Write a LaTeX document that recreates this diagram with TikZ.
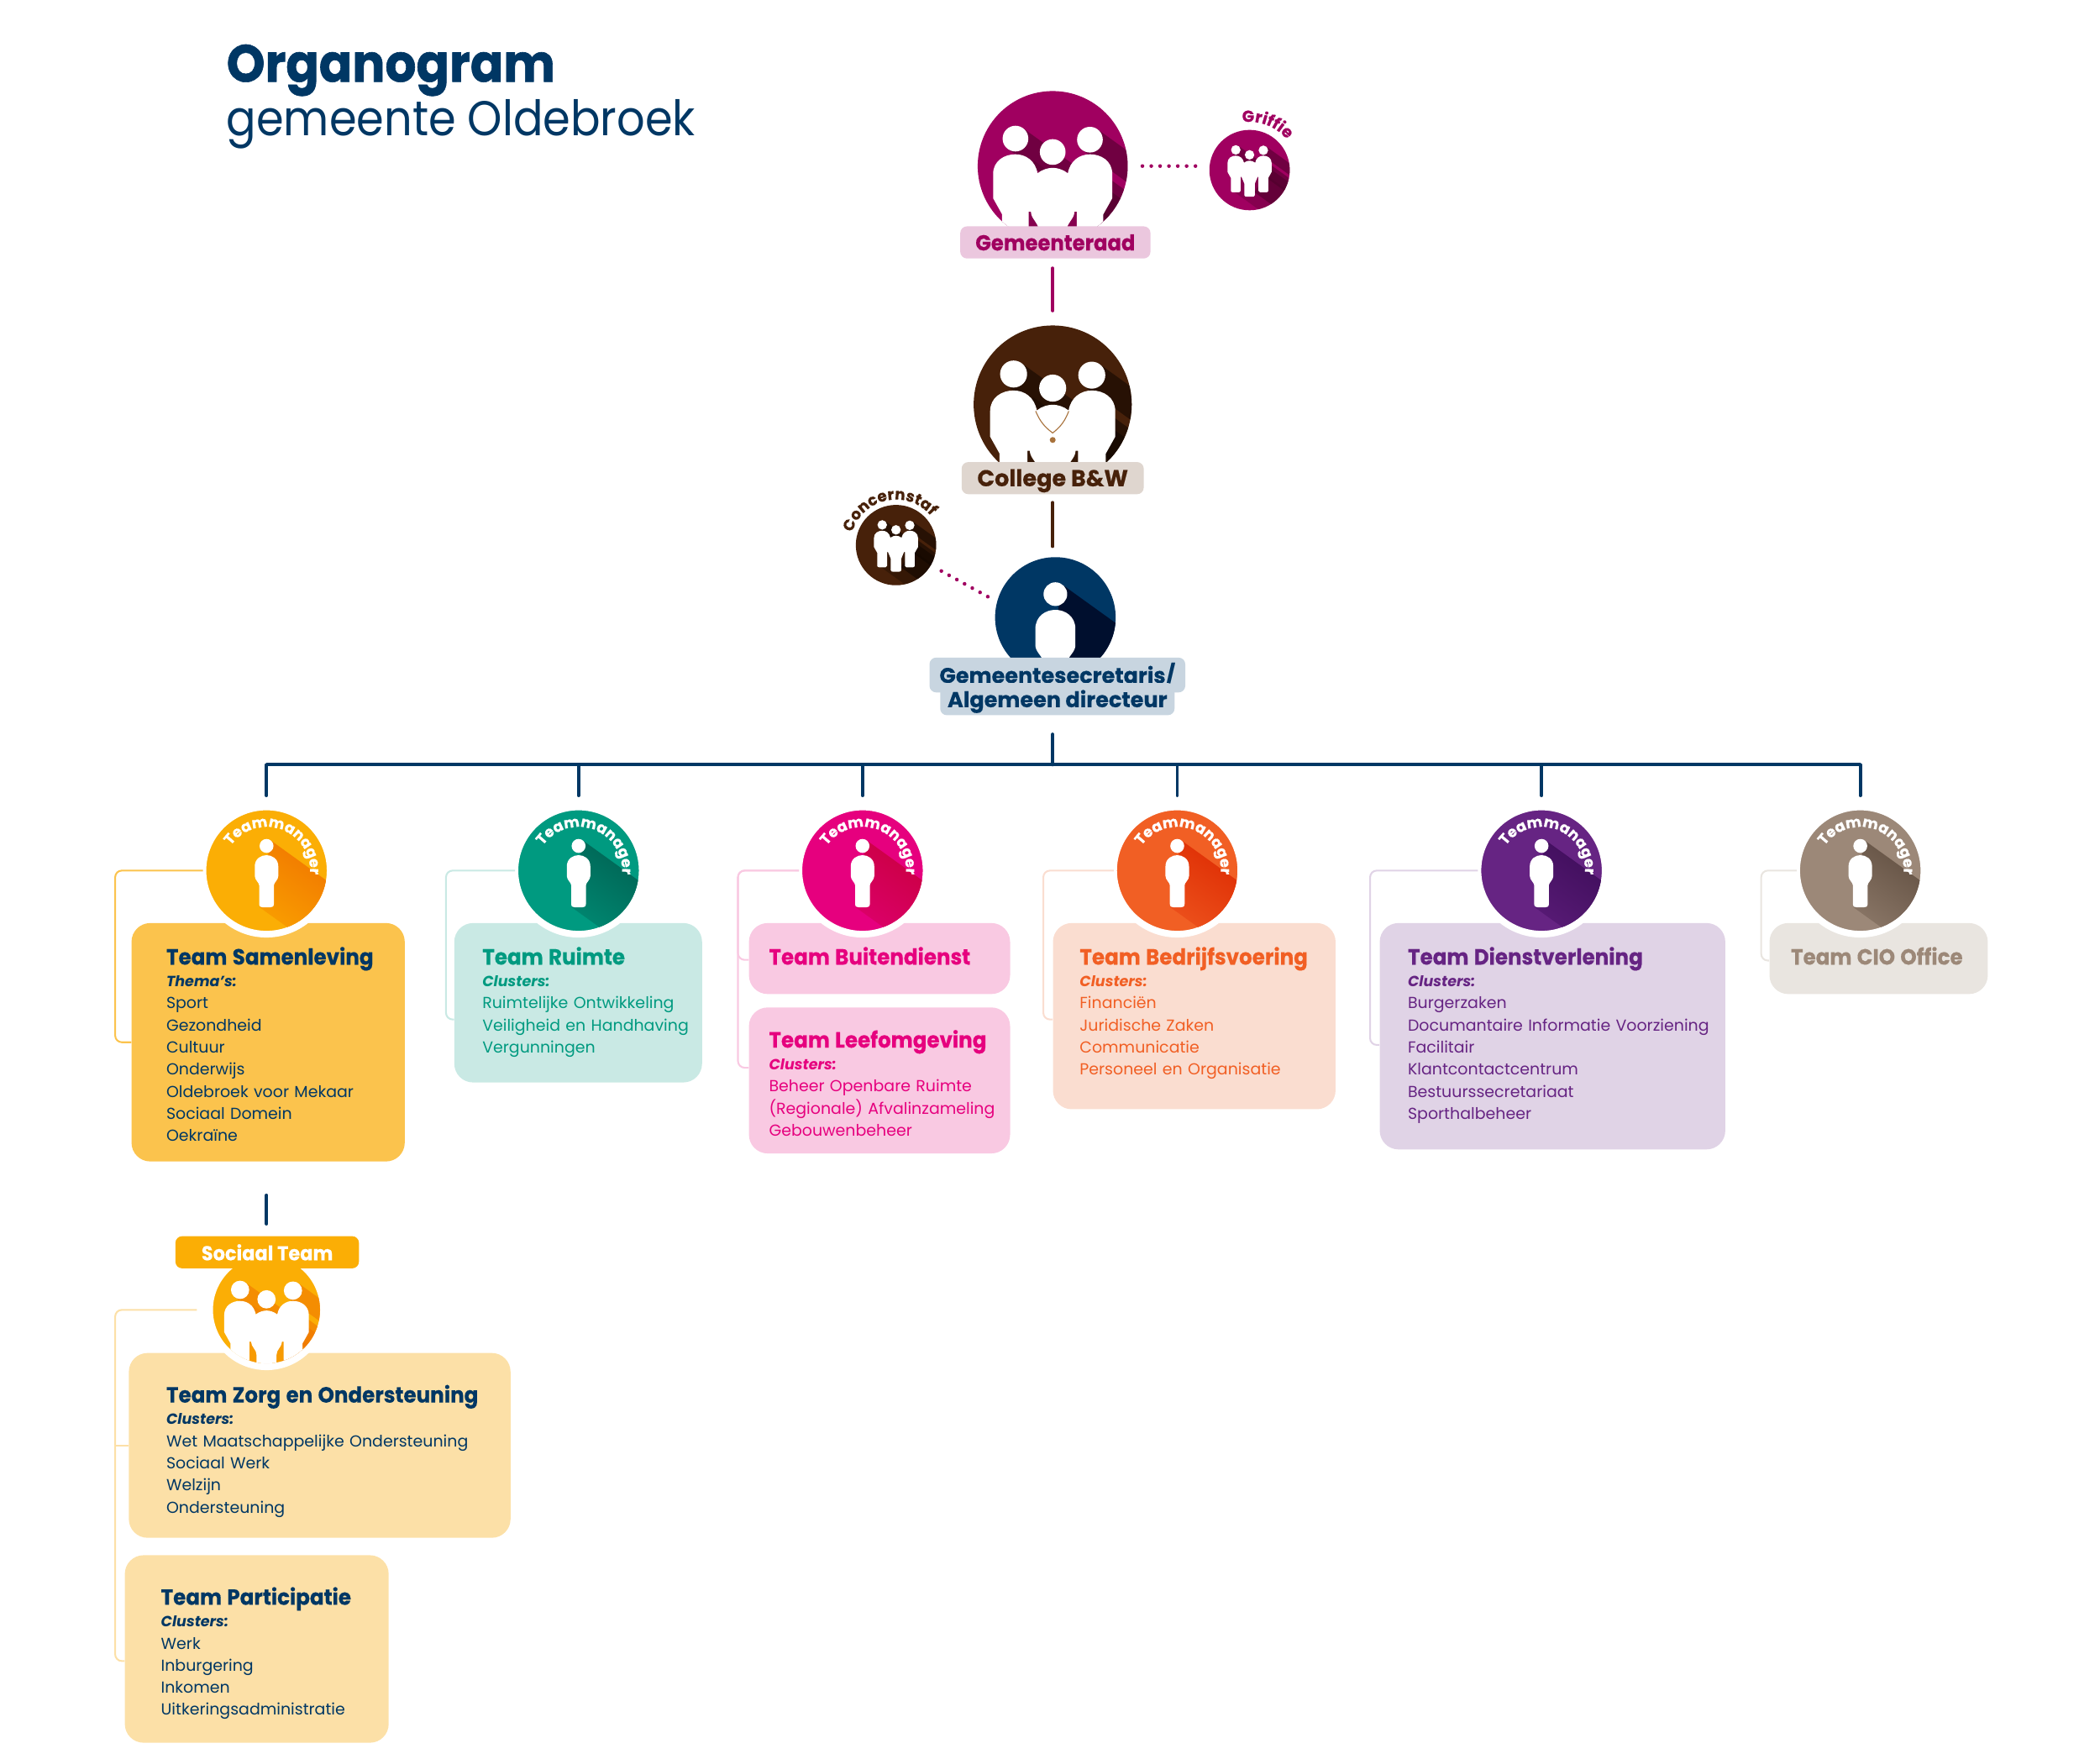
\documentclass[tikz,border=0pt]{standalone}
\usepackage{fontspec}
\setmainfont{Poppins}[BoldFeatures={FakeBold=.4}]
\newfontfamily\koppen{Poppins}[FakeStretch=.94,BoldFeatures={FakeBold=.4}]
\newfontfamily\titelfont{Poppins}[FakeStretch=.935,BoldFeatures={FakeBold=1}]
\newfontfamily\subtitelfont{Poppins}[FakeStretch=.904]
\usetikzlibrary{decorations.text}

\definecolor{navy}{HTML}{003764}
\definecolor{raad}{HTML}{A00060}
\definecolor{raadlight}{HTML}{EBC7DE}
\definecolor{raaddark}{HTML}{4A0028}
\definecolor{bruin}{HTML}{47210A}
\definecolor{bruinlight}{HTML}{DFD6CF}
\definecolor{bruindark}{HTML}{0E0500}
\definecolor{navylight}{HTML}{C8D5E0}
\definecolor{navydark}{HTML}{000F2E}
\definecolor{oranje}{HTML}{FBAE05}
\definecolor{oranjebox}{HTML}{FBC34D}
\definecolor{oranjepale}{HTML}{FCE0A7}
\definecolor{oranjedark}{HTML}{F07200}
\definecolor{oranjesoft}{HTML}{FBA800}
\definecolor{groen}{HTML}{009A80}
\definecolor{groenlight}{HTML}{C9E9E4}
\definecolor{groendark}{HTML}{005F50}
\definecolor{groensoft}{HTML}{009078}
\definecolor{roze}{HTML}{E6007E}
\definecolor{rozelight}{HTML}{F9C9E2}
\definecolor{rozedark}{HTML}{C8003C}
\definecolor{rozesoft}{HTML}{E00074}
\definecolor{rood}{HTML}{F15F24}
\definecolor{roodlight}{HTML}{FADDD0}
\definecolor{rooddark}{HTML}{DC2800}
\definecolor{roodsoft}{HTML}{F05A22}
\definecolor{paars}{HTML}{662483}
\definecolor{paarslight}{HTML}{E0D3E6}
\definecolor{paarsdark}{HTML}{3C0C58}
\definecolor{paarssoft}{HTML}{5E1E7C}
\definecolor{taupe}{HTML}{9C8878}
\definecolor{taupelight}{HTML}{E9E5E0}
\definecolor{taupedark}{HTML}{5E4C3E}
\definecolor{taupesoft}{HTML}{948070}
\definecolor{keten}{HTML}{A8723C}

\newcommand{\teamname}[1]{{\koppen\fontsize{16.4}{16.5}\selectfont\bfseries #1}}
\newcommand{\kop}[1]{{\fontsize{11}{16.5}\selectfont\bfseries\itshape #1}}

\begin{document}
\begin{tikzpicture}
        [x=1pt, y=-1pt,
        iconcircle/.style={circle, fill=#1, inner sep=0pt, outer sep=0pt},
        teamcircle/.style={circle, fill=#1, draw=white, line width=5pt, minimum size=95pt, inner sep=0pt, outer sep=0pt},
        labelbox/.style n args={3}{fill=#1, text=#2, minimum width=#3pt, minimum height=24pt, inner sep=0pt,
            text height=12pt, text depth=0pt, rounded corners=5pt, font=\fontsize{16}{16}\selectfont\bfseries},
        teambox/.style n args={5}{fill=#1, text=#2, anchor=north west, inner sep=0pt, rounded corners=14pt,
            text width=#3pt, text height=31pt, text depth=#4pt, align=left,
            font=\fontsize{11.9}{16.5}\selectfont, execute at begin node={\leftskip=#5pt}},
        trunk/.style={#1, line width=2.4pt, line cap=round},
        branch/.style={#1, line width=1.3pt, rounded corners=5pt},
        stippel/.style={raad, line width=2.8pt, line cap=round, dash pattern=on 0pt off 6.6pt},
        curved/.style n args={3}{decorate, decoration={text along path, text align=center,
            text={|\fontsize{#3}{#3}\selectfont\bfseries\color{#1}|#2}}},
        % one person: #1 and #2 colours of the long shadow, #3 radius of the circle, #4 its centre
        pics/person/.style n args={4}{code={
            \begin{scope}
                \clip (0,#4) circle (#3);
                \path[top color=#1, bottom color=#2, shading angle=-35] (3,-22.6) -- (-5,27.5) -- (62,75.7) -- (70,25.6) -- cycle;
                \fill[white] (0,-18.4) circle (5.2);
                \fill[white] (-8.8,-3) .. controls (-8.8,-9) and (-4,-11.5) .. (0,-11.5)
                    .. controls (4,-11.5) and (8.8,-9) .. (8.8,-3) -- (8.8,4)
                    .. controls (8.8,7) and (5.5,9) .. (5.5,11) -- (5.5,25)
                    .. controls (5.5,27) and (4,27.5) .. (2.5,27.5) -- (-2.5,27.5)
                    .. controls (-4,27.5) and (-5.5,27) .. (-5.5,25) -- (-5.5,11)
                    .. controls (-5.5,9) and (-8.8,7) .. (-8.8,4) -- cycle;
            \end{scope}
        }},
        % three people
        pics/people/.style n args={3}{code={
            \begin{scope}
                \clip (0,#3) circle (#2);
                \fill[#1, fill opacity=.55] (-22.2,-28.3) -- (-33.4,-12.7) -- (116.6,95.3) -- (127.8,79.7) -- cycle;
                \fill[#1, fill opacity=.55] (33.4,-27.5) -- (22.2,-11.9) -- (172.2,96.1) -- (183.4,80.5) -- cycle;
                \fill[#1, fill opacity=.55] (44,10.7) -- (10,65) -- (160,173) -- (194,118.7) -- cycle;
                \fill[#1, fill opacity=.3] (-14,-4) -- (-30,65) -- (120,173) -- (136,104) -- cycle;
                \fill[white] (-27.8,-20.5) circle (9.6);
                \fill[white] (0,-10.5) circle (9.6);
                \fill[white] (27.8,-19.7) circle (9.6);
                \fill[white] (-44.5,6) .. controls (-44.5,-4) and (-36,-8.8) .. (-27.9,-8.8)
                    .. controls (-20,-8.8) and (-13,-4) .. (-11.3,5.4)
                    .. controls (-8,2.5) and (-3,1.3) .. (0,1.3) .. controls (3,1.3) and (8,2.5) .. (11.3,5.4)
                    .. controls (13,-4) and (20,-8.8) .. (27.9,-8.8)
                    .. controls (36,-8.8) and (44.5,-4) .. (44.5,6)
                    -- (44.5,24) -- (37.8,36) -- (37.8,62) .. controls (37.8,64) and (36,65) .. (34,65) -- (21,65)
                    .. controls (19,65) and (18,64) .. (18,62) -- (18,34) -- (16.3,34)
                    .. controls (16,40) and (10.5,42) .. (10.5,48) -- (10.5,71)
                    .. controls (10.5,73) and (8,74) .. (6,74) -- (-6,74)
                    .. controls (-8,74) and (-10.5,73) .. (-10.5,71) -- (-10.5,48)
                    .. controls (-10.5,42) and (-16,40) .. (-16.3,34) -- (-18,34) -- (-18,62)
                    .. controls (-18,64) and (-19,65) .. (-21,65) -- (-34,65)
                    .. controls (-36,65) and (-37.8,64) .. (-37.8,62) -- (-37.8,36) -- (-44.5,24) -- cycle;
            \end{scope}
        }}]

        \useasboundingbox (0,0) rectangle (1568,1313);

        % Title
        \node[anchor=base west, inner sep=0pt, text=navy, font=\titelfont\fontsize{39}{39}\selectfont\bfseries] (titel) at (169,61) {Organogram};
        \node[anchor=base west, inner sep=0pt, text=navy, font=\subtitelfont\fontsize{36.5}{36.5}\selectfont] (subtitel) at (169,101) {gemeente Oldebroek};

        % Team boxes
        \node[teambox={oranjebox}{navy}{204}{147}{26}] (samenlevingbox) at (98,689)
            {\teamname{Team Samenleving}\\\kop{Thema's:}\\Sport\\Gezondheid\\Cultuur\\Onderwijs\\Oldebroek voor Mekaar\\Sociaal Domein\\Oekraïne};
        \node[teambox={groenlight}{groen}{185}{88}{21}] (ruimtebox) at (339,689)
            {\teamname{Team Ruimte}\\\kop{Clusters:}\\Ruimtelijke Ontwikkeling\\Veiligheid en Handhaving\\Vergunningen};
        \node[teambox={rozelight}{roze}{195}{22}{15}] (buitendienstbox) at (559,689)
            {\teamname{Team Buitendienst}};
        \node[teambox={rozelight}{roze}{195}{78}{15}, text height=30pt, text depth=79pt] (leefomgevingbox) at (559,752)
            {\teamname{Team Leefomgeving}\\\kop{Clusters:}\\Beheer Openbare Ruimte\\(Regionale) Afvalinzameling\\Gebouwenbeheer};
        \node[teambox={roodlight}{rood}{211}{108}{20}] (bedrijfsvoeringbox) at (786,689)
            {\teamname{Team Bedrijfsvoering}\\\kop{Clusters:}\\Financiën\\Juridische Zaken\\Communicatie\\Personeel en Organisatie};
        \node[teambox={paarslight}{paars}{258}{138}{21}] (dienstverleningbox) at (1030,689)
            {\teamname{Team Dienstverlening}\\\kop{Clusters:}\\Burgerzaken\\Documantaire Informatie Voorziening\\Facilitair\\Klantcontactcentrum\\Bestuurssecretariaat\\Sporthalbeheer};
        \node[teambox={taupelight}{taupe}{163}{22}{16}] (ciobox) at (1321,689)
            {\teamname{Team CIO Office}};
        \node[teambox={oranjepale}{navy}{285}{101}{28}, text height=37pt] (zorgbox) at (96,1010)
            {\teamname{Team Zorg en Ondersteuning}\\\kop{Clusters:}\\Wet Maatschappelijke Ondersteuning\\Sociaal Werk\\Welzijn\\Ondersteuning};
        \node[teambox={oranjepale}{navy}{197}{103}{27}, text height=37pt] (participatiebox) at (93,1161)
            {\teamname{Team Participatie}\\\kop{Clusters:}\\Werk\\Inburgering\\Inkomen\\Uitkeringsadministratie};

        % Circles
        \node[iconcircle=raad, minimum size=112pt] (gemeenteraad) at (786,124) {};
        \node[iconcircle=raad, minimum size=60pt] (griffie) at (933,127) {};
        \node[iconcircle=bruin, minimum size=118pt] (college) at (786,302) {};
        \node[iconcircle=bruin, minimum size=60pt] (concernstaf) at (669,407) {};
        \node[iconcircle=navy, minimum size=90pt] (secretaris) at (788,461) {};
        \node[teamcircle=oranje] (samenleving) at (199,650) {};
        \node[teamcircle=groen] (ruimte) at (432,650) {};
        \node[teamcircle=roze] (leefomgeving) at (644,650) {};
        \node[teamcircle=rood] (bedrijfsvoering) at (879,650) {};
        \node[teamcircle=paars] (dienstverlening) at (1151,650) {};
        \node[teamcircle=taupe] (cio) at (1389,650) {};
        \node[teamcircle=oranje, minimum size=85pt] (sociaal) at (199,978) {};

        % Icons in the circles
        \pic at (gemeenteraad) {people={raaddark}{56}{0}};
        \pic[yshift=7.5pt, scale=.37] at (griffie) {people={raaddark}{81.1}{20.3}};
        \pic[yshift=1.2pt, scale=1.05] at (college) {people={bruindark}{56.2}{1.1}};
        \pic[yshift=7.5pt, scale=.37] at (concernstaf) {people={bruindark}{81.1}{20.3}};
        \pic[yshift=-13.9pt, scale=1.7] at (secretaris) {person={navydark}{navydark}{26.5}{-8.2}};
        \pic at (samenleving) {person={oranjedark}{oranjesoft}{45}{0}};
        \pic at (ruimte) {person={groendark}{groensoft}{45}{0}};
        \pic at (leefomgeving) {person={rozedark}{rozesoft}{45}{0}};
        \pic at (bedrijfsvoering) {person={rooddark}{roodsoft}{45}{0}};
        \pic at (dienstverlening) {person={paarsdark}{paarssoft}{45}{0}};
        \pic at (cio) {person={taupedark}{taupesoft}{45}{0}};
        \pic[yshift=.4pt, scale=.71] at (sociaal) {people={oranjedark}{56.3}{.6}};

        % Chain of the mayor
        \draw[keten, line width=.7pt] (college) ++(-12.7,5) to[bend right=15] ++(12.7,16.3) to[bend right=15] ++(12,-16.3);
        \fill[keten] (college) ++(0,26.5) circle (2.2);

        % Curved texts
        \path[curved={raad}{Griffie}{12}] (griffie) ++(102:36pt) arc[start angle=102, end angle=36, radius=36pt];
        \path[curved={bruin}{Concernstaf}{11.5}] (concernstaf) ++(167:34pt) arc[start angle=167, end angle=37, radius=34pt];
        \path[curved={white}{Teammanager}{11}] (samenleving) ++(145:32.5pt) arc[start angle=145, end angle=-5, radius=32.5pt];
        \path[curved={white}{Teammanager}{11}] (ruimte) ++(145:32.5pt) arc[start angle=145, end angle=-5, radius=32.5pt];
        \path[curved={white}{Teammanager}{11}] (leefomgeving) ++(145:32.5pt) arc[start angle=145, end angle=-5, radius=32.5pt];
        \path[curved={white}{Teammanager}{11}] (bedrijfsvoering) ++(145:32.5pt) arc[start angle=145, end angle=-5, radius=32.5pt];
        \path[curved={white}{Teammanager}{11}] (dienstverlening) ++(145:32.5pt) arc[start angle=145, end angle=-5, radius=32.5pt];
        \path[curved={white}{Teammanager}{11}] (cio) ++(145:32.5pt) arc[start angle=145, end angle=-5, radius=32.5pt];

        % Labels
        \node[labelbox={raadlight}{raad}{142}, font=\koppen\fontsize{16.2}{16}\selectfont\bfseries] (gemeenteraadlabel) at (788,181) {Gemeenteraad};
        \node[labelbox={bruinlight}{bruin}{136}, font=\fontsize{17}{17}\selectfont\bfseries] (collegelabel) at (786,357) {College B\&W};
        \node[labelbox={navylight}{navy}{191}, minimum height=26pt] (secretarislabela) at (789.5,504) {Gemeentesecretaris/};
        \node[labelbox={navylight}{navy}{175}] (secretarislabelb) at (789.5,522) {Algemeen directeur};
        \node[labelbox={oranje}{white}{137}, font=\koppen\fontsize{15}{15}\selectfont\bfseries] (sociaallabel) at (199.5,935) {Sociaal Team};

        % Lines between the levels
        \coordinate (bus) at (786,571);
        \draw[trunk=raad, shorten <=7pt, shorten >=11pt] (college.north |- gemeenteraadlabel.south) -- (college.north);
        \draw[trunk=bruin, shorten <=6pt, shorten >=8pt] (collegelabel.south) -- (collegelabel.south |- secretaris.north);
        \draw[trunk=navy, shorten <=14pt] (bus |- secretarislabelb.south) -- (bus);
        \draw[trunk=navy, line cap=butt] (samenleving |- bus) -- (cio |- bus);
        \draw[trunk=navy, shorten >=8.5pt] (samenleving |- bus) -- (samenleving.north);
        \draw[trunk=navy, shorten >=8.5pt] (ruimte |- bus) -- (ruimte.north);
        \draw[trunk=navy, shorten >=8.5pt] (leefomgeving |- bus) -- (leefomgeving.north);
        \draw[trunk=navy, shorten >=8.5pt] (bedrijfsvoering |- bus) -- (bedrijfsvoering.north);
        \draw[trunk=navy, shorten >=8.5pt] (dienstverlening |- bus) -- (dienstverlening.north);
        \draw[trunk=navy, shorten >=8.5pt] (cio |- bus) -- (cio.north);
        \draw[trunk=navy, shorten <=25pt, shorten >=9pt] (samenlevingbox.south -| sociaal) -- (sociaal |- sociaallabel.north);

        % Dotted staff lines
        \draw[stippel, shorten <=11pt, shorten >=8pt] (gemeenteraad.east) -- (gemeenteraad.east -| griffie.west);
        \draw[stippel, shorten <=9pt, shorten >=5pt] (concernstaf.-30) -- (secretaris.165);

        % Thin lines from manager to team
        \draw[branch=oranjebox] (samenleving.west) -- ++(-65.5,0) |- (samenlevingbox.west);
        \draw[branch=groenlight] (ruimte.west) -- ++(-51.5,0) |- ([yshift=-12.5pt]ruimtebox.west);
        \draw[branch=rozelight] (leefomgeving.west) -- ++(-45.5,0) |- ([yshift=-1pt]buitendienstbox.west);
        \draw[branch=rozelight] (leefomgeving.west) -- ++(-45.5,0) |- ([yshift=9.5pt]leefomgevingbox.west);
        \draw[branch=roodlight] (bedrijfsvoering.west) -- ++(-52.5,0) |- ([yshift=-2.5pt]bedrijfsvoeringbox.west);
        \draw[branch=paarslight] (dienstverlening.west) -- ++(-80.5,0) |- ([yshift=-6.5pt]dienstverleningbox.west);
        \draw[branch=taupelight] (cio.west) -- ++(-26.5,0) |- ([yshift=-1.5pt]ciobox.west);
        \draw[branch=oranjepale, shorten <=9.5pt] (sociaal.west) -- ++(-70.5,0) |- ([yshift=-9pt]participatiebox.west);
        \draw[branch=oranjepale] (zorgbox.west) -- ++(-10,0);
    \end{tikzpicture}
\end{document}
